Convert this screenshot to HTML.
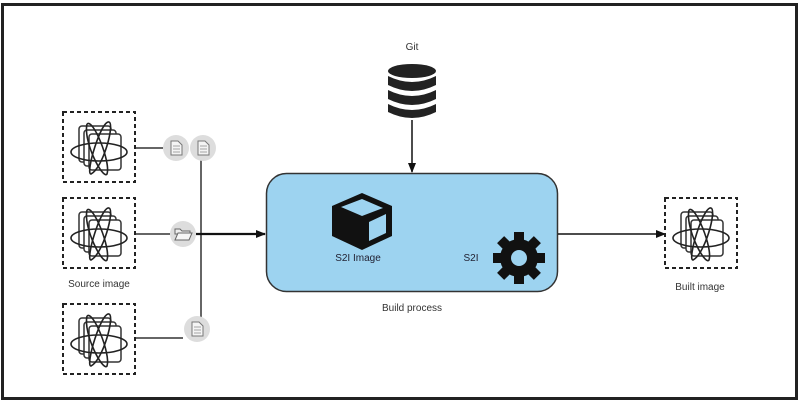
<!DOCTYPE html>
<html><head><meta charset="utf-8"><style>
html,body{margin:0;padding:0;background:#fff;}
svg{display:block;font-family:"Liberation Sans",sans-serif;}
</style></head><body>
<svg width="800" height="402" viewBox="0 0 800 402" xmlns="http://www.w3.org/2000/svg">
<defs>
<marker id="ah" markerWidth="10" markerHeight="8" refX="9" refY="4" orient="auto" markerUnits="userSpaceOnUse">
<path d="M0,0 L10,4 L0,8 Z" fill="#111"/></marker>
<g id="img">
<rect x="0" y="0" width="72" height="70" fill="#fff" stroke="#222" stroke-width="2" stroke-dasharray="4,3"/>
<g fill="#fff" stroke="#333" stroke-width="1.5">
<rect x="16" y="14" width="32" height="36" rx="3"/>
<rect x="21" y="18" width="32" height="36" rx="3"/>
<rect x="26" y="22" width="32" height="36" rx="3"/>
</g>
<g fill="none" stroke="#222" stroke-width="1.6">
<ellipse cx="36" cy="40" rx="28" ry="9"/>
<path d="M24,12 C30,6 48,50 44,62 C40,68 20,30 24,12"/>
<path d="M46,10 C52,12 40,56 28,62 C22,62 38,8 46,10"/>
</g>
</g>
<g id="doc">
<circle r="13" fill="#ddd"/>
<path d="M-5,-7 h7 l4,4 v10 h-11 z" fill="#f4f4f4" stroke="#777" stroke-width="1"/>
<path d="M-3,-2 h7 M-3,1 h7 M-3,4 h7" stroke="#888" stroke-width="0.8"/>
</g>
</defs>
<rect x="2.5" y="4.5" width="794" height="394" fill="#fff" stroke="#222" stroke-width="3"/>

<!-- connectors left -->
<line x1="135" y1="148" x2="163" y2="148" stroke="#333" stroke-width="1.5"/>
<line x1="135" y1="234" x2="170" y2="234" stroke="#333" stroke-width="1.5"/>
<line x1="135" y1="338" x2="183" y2="338" stroke="#333" stroke-width="1.5"/>
<line x1="201" y1="160" x2="201" y2="318" stroke="#333" stroke-width="1.5"/>
<line x1="196" y1="234" x2="265" y2="234" stroke="#111" stroke-width="2.2" marker-end="url(#ah)"/>

<use href="#img" x="63" y="112"/>
<use href="#img" x="63" y="198"/>
<use href="#img" x="63" y="304"/>
<text x="99" y="287" font-size="10" fill="#333" text-anchor="middle">Source image</text>

<use href="#doc" x="176" y="148"/>
<use href="#doc" x="203" y="148"/>
<use href="#doc" x="197" y="329"/>
<g transform="translate(183,234)">
<circle r="13" fill="#ddd"/>
<path d="M-8,-5 h5 l2,2 h8 v3 h-15 z" fill="#eee" stroke="#666" stroke-width="1"/>
<path d="M-8,6 l3,-7 h14 l-3,7 z" fill="#f6f6f6" stroke="#666" stroke-width="1"/>
</g>

<!-- Git -->
<text x="412" y="50" font-size="10" fill="#333" text-anchor="middle">Git</text>
<g fill="#222">
<ellipse cx="412" cy="71" rx="24" ry="7"/>
<path d="M388,76 q24,12 48,0 v9 q-24,12 -48,0 z"/>
<path d="M388,90 q24,12 48,0 v9 q-24,12 -48,0 z"/>
<path d="M388,104 q24,12 48,0 v8 q-24,12 -48,0 z"/>
</g>
<line x1="412" y1="120" x2="412" y2="172" stroke="#111" stroke-width="1.5" marker-end="url(#ah)"/>

<!-- Build box -->
<rect x="266.5" y="173.5" width="291" height="118" rx="20" fill="#9dd3f0" stroke="#333" stroke-width="1.5"/>
<g transform="translate(362,220)">
<path d="M0,-27 L30,-14 L30,16 L0,30 L-30,16 L-30,-14 Z" fill="#111"/>
<path d="M-21,-13 L0,-21 L21,-12 L0,-4 Z" fill="#9dd3f0"/>
<path d="M7,2 L24,-6 L24,13 L7,21 Z" fill="#9dd3f0"/>
</g>
<text x="358" y="261" font-size="10" fill="#223" text-anchor="middle">S2I Image</text>
<text x="471" y="261" font-size="10" fill="#223" text-anchor="middle">S2I</text>
<g transform="translate(519,258)" fill="#111">
<circle r="19"/>
<g>
<rect x="-5" y="-26" width="10" height="10"/>
<rect x="-5" y="16" width="10" height="10"/>
<rect x="-26" y="-5" width="10" height="10"/>
<rect x="16" y="-5" width="10" height="10"/>
<rect x="-5" y="-26" width="10" height="10" transform="rotate(45)"/>
<rect x="-5" y="-26" width="10" height="10" transform="rotate(135)"/>
<rect x="-5" y="-26" width="10" height="10" transform="rotate(225)"/>
<rect x="-5" y="-26" width="10" height="10" transform="rotate(315)"/>
</g>
<circle r="8" fill="#9dd3f0"/>
</g>
<text x="412" y="311" font-size="10" fill="#333" text-anchor="middle">Build process</text>

<line x1="558" y1="234" x2="665" y2="234" stroke="#111" stroke-width="1.5" marker-end="url(#ah)"/>
<use href="#img" x="665" y="198"/>
<text x="700" y="290" font-size="10" fill="#333" text-anchor="middle">Built image</text>
</svg>
</body></html>
